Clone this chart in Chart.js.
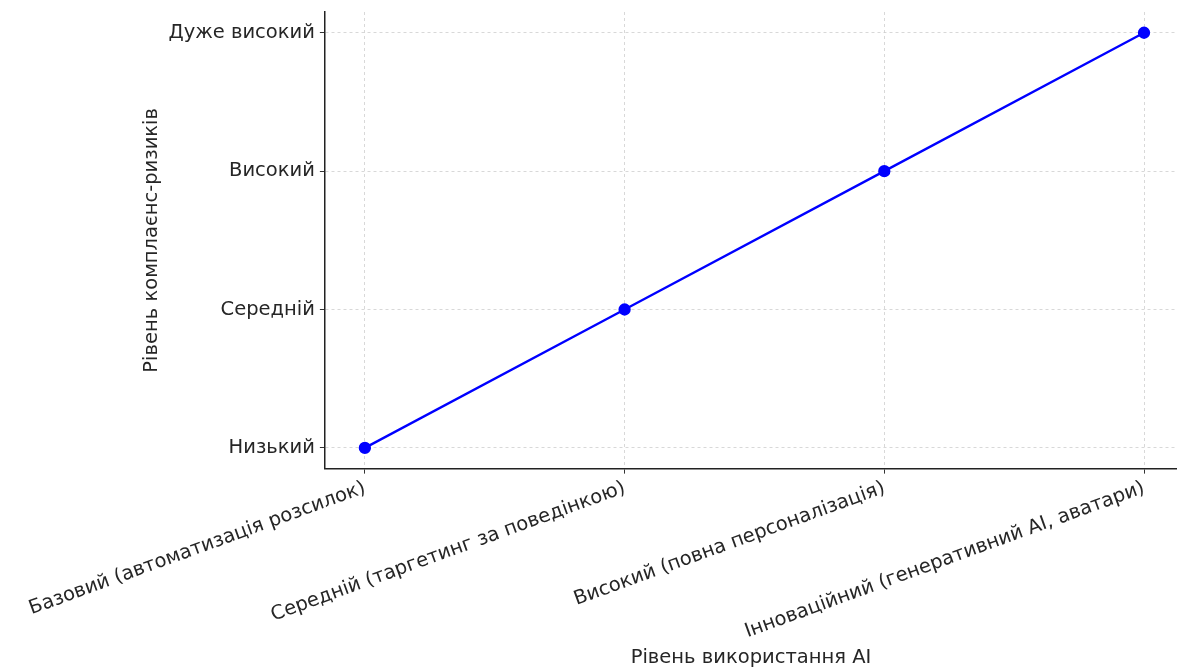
<!DOCTYPE html>
<html>
<head>
<meta charset="utf-8">
<script src="https://cdn.jsdelivr.net/npm/chart.js@4"></script>
<style>
  html, body { margin: 0; padding: 0; background: #fff; }
  #wrap { width: 1177px; height: 670px; }
</style>
</head>
<body>
<div id="wrap"><canvas id="myChart" width="1177" height="670"></canvas></div>
<script>
// categories on x (usage level) and y (risk level)
const usageLevels = [
  "Базовий (автоматизація розсилок)",
  "Середній (таргетинг за поведінкою)",
  "Високий (повна персоналізація)",
  "Інноваційний (генеративний AI, аватари)",
];
const riskLabels = ["Низький", "Середній", "Високий", "Дуже високий"];
// risk index per usage level (0 = Низький ... 3 = Дуже високий)
const riskValues = [0, 1, 2, 3];

const xTitle = "Рівень використання AI";
const yTitle = "Рівень комплаєнс-ризиків";

const font = "'DejaVu Sans', sans-serif";
const txt = "#262626";
const fs = 19.5;

const points = riskValues.map((v, i) => ({ x: i, y: v }));

// keep only one tick per category
const xTicks = (axis) => {
  axis.ticks = usageLevels.map((_, i) => ({ value: i }));
};
const yTicks = (axis) => {
  axis.ticks = riskLabels.map((_, i) => ({ value: i }));
};

const grid = {
  color: "#cfcfcf",
  lineWidth: 0.8,
  tickLength: 5,
  tickColor: "#333",
  tickWidth: 1,
};

new Chart("myChart", {
  type: "line",
  data: {
    datasets: [
      {
        data: points,
        borderColor: "#0000ff",
        backgroundColor: "#0000ff",
        borderWidth: 2.3,
        pointRadius: 5,
        pointHoverRadius: 5,
        tension: 0,
      },
    ],
  },
  options: {
    responsive: false,
    animation: false,
    layout: { autoPadding: false, padding: { top: 12, right: 0, left: 140, bottom: 0 } },
    plugins: { legend: { display: false }, tooltip: { enabled: false } },
    scales: {
      x: {
        type: "linear",
        min: -0.154,
        max: 3.127,
        afterBuildTicks: xTicks,
        afterFit: (s) => { s.paddingRight = 0; },
        grid: grid,
        border: { display: true, color: "#222", width: 1.5, dash: [3, 3] },
        ticks: {
          autoSkip: false,
          minRotation: 20,
          maxRotation: 20,
          padding: 3,
          color: txt,
          font: { family: font, size: fs },
          callback: (v) => usageLevels[v] ?? "",
        },
        title: {
          display: true,
          text: xTitle,
          color: txt,
          font: { family: font, size: fs },
          padding: { top: 0, bottom: 0 },
        },
      },
      y: {
        type: "linear",
        min: -0.15,
        max: 3.15,
        afterBuildTicks: yTicks,
        afterFit: (s) => { s.paddingTop = 0; },
        grid: grid,
        border: { display: true, color: "#222", width: 1.5, dash: [3, 3] },
        ticks: {
          padding: 5,
          color: txt,
          font: { family: font, size: fs },
          callback: (v) => riskLabels[v] ?? "",
        },
        title: {
          display: true,
          text: yTitle,
          color: txt,
          font: { family: font, size: fs },
          padding: { top: 0, bottom: 0 },
        },
      },
    },
  },
});
</script>
</body>
</html>
